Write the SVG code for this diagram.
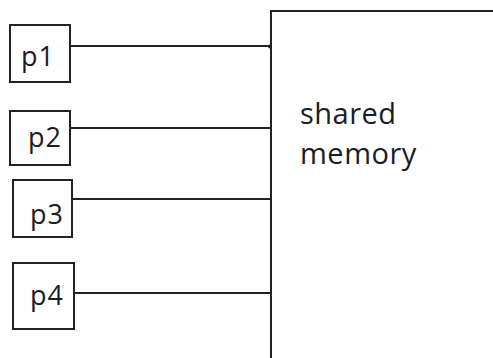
<svg xmlns="http://www.w3.org/2000/svg" width="493" height="358" viewBox="0 0 493 358">
  <style>
    .box { fill: #fff; stroke: #222; stroke-width: 2; }
    .wire { fill: none; stroke: #222; stroke-width: 1.8; }
    .lbl { font-family: "Open Sans", "Noto Sans", sans-serif; font-size: 27px; letter-spacing: 1px; fill: #1c1c24; }
    .mem { font-family: "Open Sans", "Noto Sans", sans-serif; font-size: 29px; letter-spacing: 0.5px; fill: #1c1c24; }
  </style>
  <rect width="493" height="358" fill="#fff"/>

  <!-- shared memory block, running off the right and bottom edges -->
  <g id="shared-memory">
    <rect class="box" x="271" y="11" width="240" height="360"/>
    <text class="mem" x="300" y="124">shared</text>
    <text class="mem" x="300" y="164">memory</text>
  </g>

  <!-- processor nodes -->
  <g id="p1">
    <rect class="box" x="10" y="25" width="60" height="57"/>
    <text class="lbl" x="21" y="66">p1</text>
  </g>
  <g id="p2">
    <rect class="box" x="10" y="111" width="60" height="54"/>
    <text class="lbl" x="28" y="147">p2</text>
  </g>
  <g id="p3">
    <rect class="box" x="13" y="180" width="59" height="57"/>
    <text class="lbl" x="30" y="224">p3</text>
  </g>
  <g id="p4">
    <rect class="box" x="13" y="263" width="61" height="66"/>
    <text class="lbl" x="30" y="305">p4</text>
  </g>

  <!-- connectors from each processor to the shared memory -->
  <g id="connectors">
    <line class="wire" x1="70" y1="46" x2="271" y2="46"/>
    <circle cx="270" cy="46.5" r="2" fill="#222"/>
    <line class="wire" x1="70" y1="128" x2="271" y2="128"/>
    <line class="wire" x1="72" y1="199" x2="271" y2="199"/>
    <line class="wire" x1="74" y1="293" x2="271" y2="293"/>
  </g>
</svg>
